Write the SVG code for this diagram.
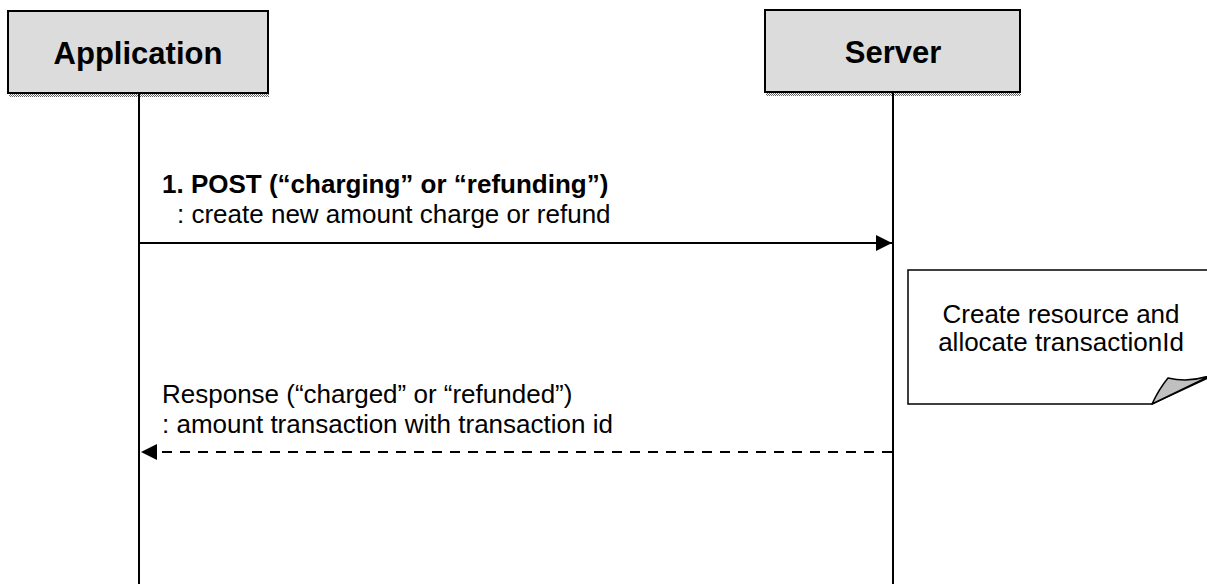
<svg xmlns="http://www.w3.org/2000/svg" width="1207" height="584" viewBox="0 0 1207 584">
  <style>
    .hdr { fill: #dcdcdc; stroke: #000; stroke-width: 2; }
    .hdrtxt { font-family: "Liberation Sans", Arial, sans-serif; font-weight: bold; font-size: 31px; fill: #000; text-anchor: middle; }
    .life { stroke: #000; stroke-width: 2; fill: none; }
    .lbl { font-family: "Liberation Sans", Arial, sans-serif; font-size: 26px; fill: #000; }
    .bold { font-weight: bold; }
    .msg { stroke: #000; stroke-width: 2; fill: none; }
    .dash { stroke-dasharray: 10 8; }
    .note { fill: #fff; stroke: #000; stroke-width: 1.5; }
    .fold { fill: #c0c0c0; stroke: #000; stroke-width: 1.5; stroke-linejoin: round; }
    .notetxt { font-family: "Liberation Sans", Arial, sans-serif; font-size: 26px; fill: #000; text-anchor: middle; }
  </style>
  <defs>
    <pattern id="hatch" width="2" height="2" patternUnits="userSpaceOnUse">
      <rect width="2" height="2" fill="#ffffff"/>
      <rect width="1" height="1" fill="#666666"/>
      <rect x="1" y="1" width="1" height="1" fill="#666666"/>
    </pattern>
    <marker id="arrow" markerWidth="16" markerHeight="16" refX="16" refY="8" orient="auto" markerUnits="userSpaceOnUse">
      <path d="M0,0 L16,8 L0,16 Z" fill="#000"/>
    </marker>
  </defs>
  <rect width="1207" height="584" fill="#fff"/>

  <g id="application">
    <rect x="9" y="93" width="260" height="4" fill="url(#hatch)"/>
    <rect class="hdr" x="8" y="11" width="260" height="82"/>
    <text class="hdrtxt" x="138" y="64">Application</text>
    <line class="life" x1="139" y1="93" x2="139" y2="584"/>
  </g>

  <g id="server">
    <rect x="766" y="92" width="255" height="4" fill="url(#hatch)"/>
    <rect class="hdr" x="765" y="10" width="255" height="82"/>
    <text class="hdrtxt" x="893" y="63">Server</text>
    <line class="life" x1="893" y1="92" x2="893" y2="584"/>
  </g>

  <g id="note">
    <path class="note" d="M908,270 H1212 V376 L1152,404 H908 Z"/>
    <path class="fold" d="M1152,404 Q1159,389 1168,378 Q1190,383 1212,375 Z"/>
    <text class="notetxt" x="1061" y="323">Create resource and</text>
    <text class="notetxt" x="1061" y="351">allocate transactionId</text>
  </g>

  <g id="connectors">
    <g id="msg1">
      <line class="msg" x1="140" y1="243" x2="892" y2="243" marker-end="url(#arrow)"/>
      <text class="lbl bold" x="162" y="193">1. POST (“charging” or “refunding”)</text>
      <text class="lbl" x="177" y="223">: create new amount charge or refund</text>
    </g>
    <g id="msg2">
      <line class="msg dash" x1="892" y1="452" x2="141" y2="452" marker-end="url(#arrow)"/>
      <text class="lbl" x="162" y="403">Response (“charged” or “refunded”)</text>
      <text class="lbl" x="162" y="433">: amount transaction with transaction id</text>
    </g>
  </g>
</svg>
